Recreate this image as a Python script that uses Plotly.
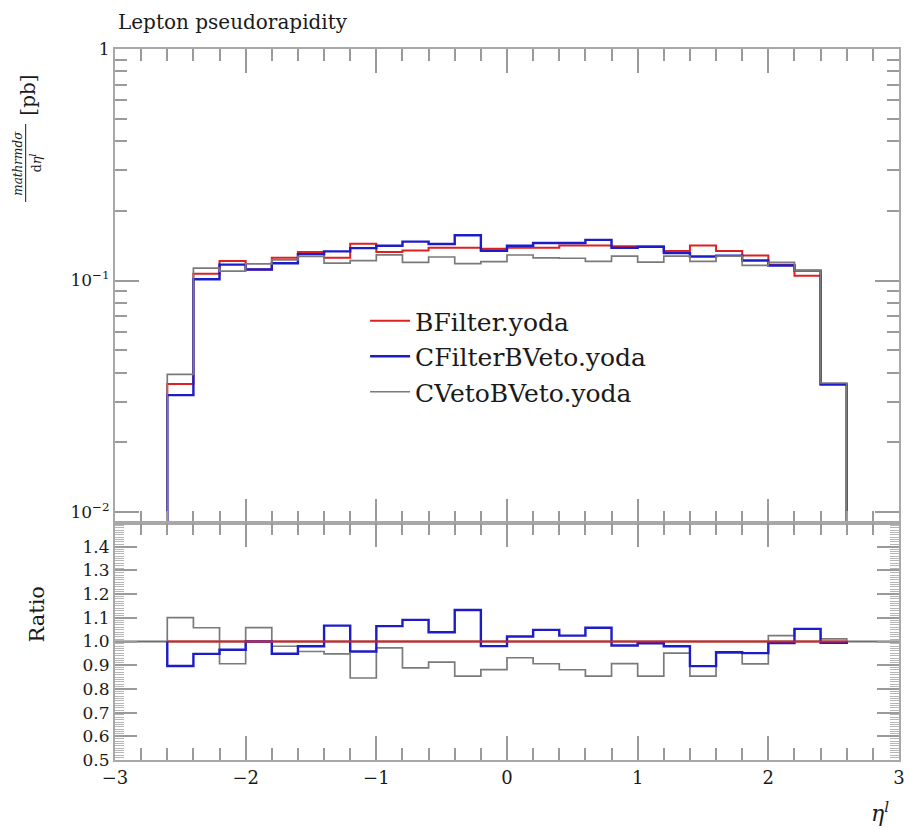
import plotly.graph_objects as go
import numpy as np

# ---------------- data ----------------
bin_edges = [-2.6, -2.4, -2.2, -2.0, -1.8, -1.6, -1.4, -1.2, -1.0, -0.8, -0.6, -0.4, -0.2, 0.0,
             0.2, 0.4, 0.6, 0.8, 1.0, 1.2, 1.4, 1.6, 1.8, 2.0, 2.2, 2.4, 2.6]

bfilter = [0.0357, 0.1069, 0.1213, 0.1116, 0.1253, 0.1327, 0.1253, 0.1441, 0.1327, 0.1349,
           0.1384, 0.1384, 0.1371, 0.1384, 0.1384, 0.1417, 0.1417, 0.1408, 0.1408, 0.1340,
           0.1417, 0.1340, 0.1283, 0.1169, 0.1048, 0.0357]

cfilter_bveto = [0.0320, 0.1013, 0.1171, 0.1116, 0.1188, 0.1300, 0.1337, 0.1380, 0.1413, 0.1472,
                 0.1438, 0.1568, 0.1344, 0.1413, 0.1452, 0.1452, 0.1499, 0.1384, 0.1398, 0.1313,
                 0.1270, 0.1280, 0.1220, 0.1161, 0.1104, 0.0355]

cveto_bveto = [0.0393, 0.1131, 0.1099, 0.1181, 0.1228, 0.1271, 0.1188, 0.1219, 0.1291, 0.1199,
               0.1264, 0.1182, 0.1208, 0.1289, 0.1254, 0.1248, 0.1210, 0.1276, 0.1202, 0.1274,
               0.1210, 0.1274, 0.1162, 0.1198, 0.1104, 0.0361]

series_names = ["BFilter.yoda", "CFilterBVeto.yoda", "CVetoBVeto.yoda"]
series_colors = ["#dd2020", "#1c1cc8", "#7a7a7a"]
series_widths = [2.0, 2.4, 1.7]

x_tickvals = [-3, -2, -1, 0, 1, 2, 3]
x_ticktext = ["\u22123", "\u22122", "\u22121", "0", "1", "2", "3"]
y_tickvals = [0.01, 0.1, 1]
y_ticktext = ["10<sup>\u22122</sup>", "10<sup>\u22121</sup>", "1"]
r_tickvals = [0.5, 0.6, 0.7, 0.8, 0.9, 1.0, 1.1, 1.2, 1.3, 1.4]
r_ticktext = ["0.5", "0.6", "0.7", "0.8", "0.9", "1.0", "1.1", "1.2", "1.3", "1.4"]

# ---------------- layout geometry ----------------
W, H = 910, 828
ML, MR, MT, MB = 115, 5, 49, 68
PW, PH = W - ML - MR, H - MT - MB
ratio_h = 237
split = ratio_h / PH

def px(xp):
    return (xp - ML) / PW

def py(yp):
    return (H - MB - yp) / PH

FONT = "DejaVu Serif"
FRAME = "#a8a8a8"
TICK = "#9a9a9a"

fig = go.Figure()

ref = np.array(bfilter)
all_series = [bfilter, cfilter_bveto, cveto_bveto]
floor = 1e-4

# top panel
for name, vals, col, lw in zip(series_names, all_series, series_colors, series_widths):
    xs = [bin_edges[0]] + bin_edges
    ys = [floor] + list(vals) + [floor]
    fig.add_trace(go.Scatter(x=xs, y=ys, mode="lines", line=dict(color=col, width=lw, shape="hv"),
                             name=name, xaxis="x", yaxis="y", showlegend=True, hoverinfo="skip"))

# ratio panel: draw gray, blue, then red on top
for idx in [2, 1, 0]:
    vals = np.array(all_series[idx]) / ref
    xs = [bin_edges[0]] + bin_edges
    ys = [1.0] + list(vals) + [1.0]
    fig.add_trace(go.Scatter(x=xs, y=ys, mode="lines",
                             line=dict(color=series_colors[idx], width=series_widths[idx], shape="hv"),
                             name=series_names[idx], xaxis="x2", yaxis="y2", showlegend=False,
                             hoverinfo="skip"))

log_minor = [m * d for d in [0.01, 0.1] for m in range(2, 10)]

axis_common = dict(showline=True, linecolor=FRAME, linewidth=2, mirror="ticks", showgrid=False,
                   zeroline=False, ticks="inside", tickcolor=TICK, tickwidth=1.5)

fig.update_layout(
    width=W, height=H,
    margin=dict(l=ML, r=MR, t=MT, b=MB, pad=0),
    paper_bgcolor="white", plot_bgcolor="white",
    font=dict(family=FONT, color="#1a1a1a"),
    xaxis=dict(axis_common, domain=[0, 1], range=[-3, 3], anchor="y", tickmode="array",
               tickvals=x_tickvals, showticklabels=False, ticklen=24,
               minor=dict(ticks="inside", dtick=0.2, tick0=-3, ticklen=12, tickcolor=TICK,
                          tickwidth=1.5, showgrid=False)),
    yaxis=dict(axis_common, domain=[split, 1], type="log", range=[np.log10(0.00897), 0],
               anchor="x", tickmode="array", tickvals=y_tickvals, ticktext=y_ticktext,
               ticklen=24, tickfont=dict(size=17, family=FONT),
               minor=dict(ticks="inside", tickmode="array", tickvals=log_minor, ticklen=12,
                          tickcolor=TICK, tickwidth=1.5, showgrid=False)),
    xaxis2=dict(axis_common, domain=[0, 1], range=[-3, 3], anchor="y2", matches="x",
                tickmode="array", tickvals=x_tickvals, ticktext=x_ticktext, ticklen=24,
                tickfont=dict(size=18, family=FONT),
                minor=dict(ticks="inside", dtick=0.2, tick0=-3, ticklen=12, tickcolor=TICK,
                           tickwidth=1.5, showgrid=False)),
    yaxis2=dict(axis_common, domain=[0, split], range=[0.5, 1.5], anchor="x2",
                tickmode="array", tickvals=r_tickvals, ticktext=r_ticktext, ticklen=22,
                tickfont=dict(size=17, family=FONT),
                minor=dict(ticks="inside", dtick=0.01, tick0=0.5, ticklen=9, tickcolor="#b5b5b5",
                           tickwidth=1, showgrid=False)),
    legend=dict(x=px(367), y=py(298), xanchor="left", yanchor="top",
                font=dict(family=FONT, size=25, color="#1a1a1a"),
                bgcolor="rgba(0,0,0,0)", itemwidth=40, tracegroupgap=0),
    showlegend=True,
)

# reference line at ratio 1
fig.add_shape(type="line", xref="x2 domain", x0=0, x1=1, yref="y2", y0=1, y1=1,
              line=dict(color="#6e6e6e", width=2), layer="below")

annotations = [
    dict(text="Lepton pseudorapidity", x=px(116), y=py(22), xanchor="left", yanchor="middle",
         font=dict(size=20, family=FONT)),
    dict(text="Ratio", x=px(36), y=py(614), xanchor="center", yanchor="middle", textangle=-90,
         font=dict(size=21, family=FONT)),
    dict(text="<i>\u03b7</i><sup><i>l</i></sup>", x=px(886), y=py(812), xanchor="center",
         yanchor="middle", font=dict(size=22, family=FONT)),
    dict(text="[pb]", x=px(27), y=py(95), xanchor="center", yanchor="middle", textangle=-90,
         font=dict(size=20, family=FONT)),
    dict(text="<i>mathrmd\u03c3</i>", x=px(17), y=py(163), xanchor="center", yanchor="middle",
         textangle=-90, font=dict(size=12, family=FONT)),
    dict(text="d<i>\u03b7</i><sup><i>l</i></sup>", x=px(35), y=py(163), xanchor="center",
         yanchor="middle", textangle=-90, font=dict(size=13, family=FONT)),
]
for a in annotations:
    a.update(xref="paper", yref="paper", showarrow=False)
fig.update_layout(annotations=annotations)

# fraction bar of the y label
fig.add_shape(type="line", xref="paper", yref="paper", x0=px(25), x1=px(25), y0=py(124), y1=py(202),
              line=dict(color="#1a1a1a", width=1))

fig.write_html("out.html")
